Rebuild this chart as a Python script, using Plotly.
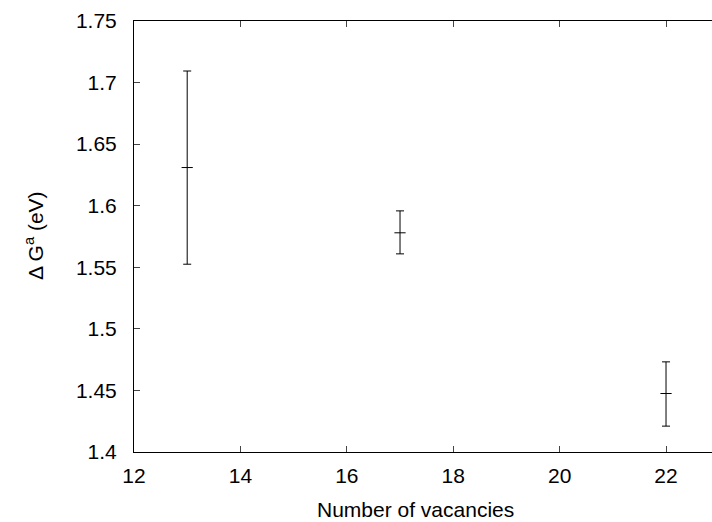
import plotly.graph_objects as go

# Activation free energy vs. number of vacancies
vacancies = [13, 17, 22]
delta_g = [1.631, 1.578, 1.4475]
err_plus = [0.0784, 0.0178, 0.0257]
err_minus = [0.0785, 0.0171, 0.0265]

x_ticks = [12, 14, 16, 18, 20, 22]
y_ticks = [1.4, 1.45, 1.5, 1.55, 1.6, 1.65, 1.7, 1.75]
y_tick_text = ["1.4", "1.45", "1.5", "1.55", "1.6", "1.65", "1.7", "1.75"]

font = "Liberation Sans, Arial, sans-serif"

fig = go.Figure()
fig.add_trace(go.Scatter(
    x=vacancies, y=delta_g,
    mode="markers",
    marker=dict(symbol="line-ew", size=8, color="black",
                line=dict(color="black", width=1)),
    error_y=dict(type="data", symmetric=False, array=err_plus,
                 arrayminus=err_minus, color="black", thickness=1, width=4),
    showlegend=False,
))

fig.update_layout(
    width=712, height=522,
    margin=dict(l=133.5, r=0, t=21, b=70),
    plot_bgcolor="white", paper_bgcolor="white",
    font=dict(family=font, size=21, color="black"),
    xaxis=dict(
        range=[12, 22.864], tickvals=x_ticks, ticks="inside", ticklen=6,
        tickcolor="#444", showline=True, linecolor="black", linewidth=1,
        mirror="ticks", showgrid=False, zeroline=False,
        ticklabelstandoff=5,
    ),
    yaxis=dict(
        range=[1.4, 1.75], tickvals=y_ticks, ticktext=y_tick_text,
        ticks="inside", ticklen=6, tickcolor="#444", showline=True,
        linecolor="black", linewidth=1, mirror=False, showgrid=False,
        zeroline=False, ticklabelstandoff=12,
    ),
    annotations=[
        dict(text="Number of vacancies", xref="paper", yref="paper",
             x=0.4875, y=-0.1325, xanchor="center", yanchor="middle",
             showarrow=False, font=dict(size=21)),
        dict(text="Δ G<sup>a</sup> (eV)", xref="paper", yref="paper",
             x=-0.1737, y=0.5023, xanchor="center", yanchor="middle",
             textangle=-90, showarrow=False, font=dict(size=21)),
    ],
)

fig.write_html("out.html")
